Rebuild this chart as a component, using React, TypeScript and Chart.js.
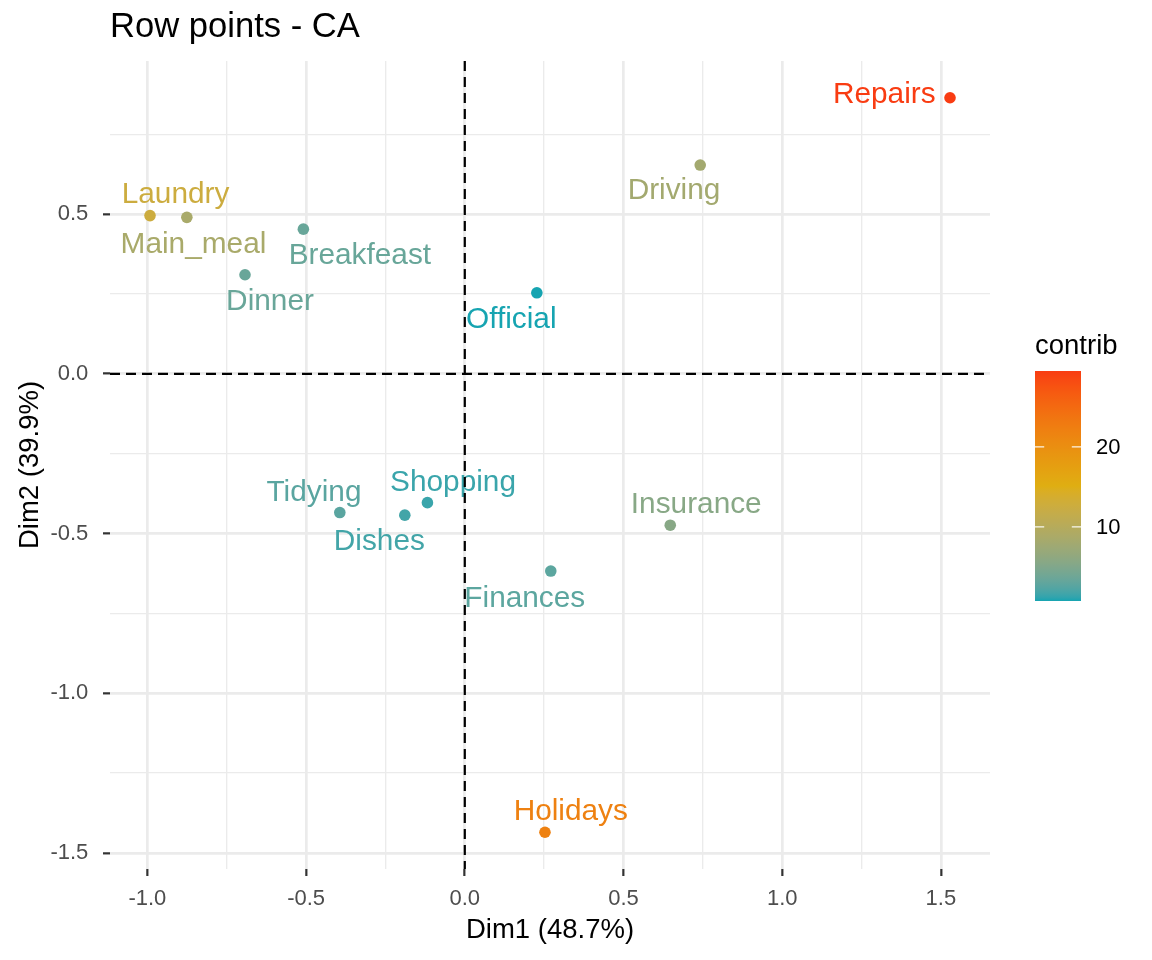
import React, { useEffect, useRef } from 'react';
import { Chart, registerables } from 'chart.js';

Chart.register(...registerables);

const FONT = '"Liberation Sans", Arial, Helvetica, sans-serif';

// Row coordinates on the first two CA dimensions and their contribution (%)
const rowNames = ['Laundry', 'Main_meal', 'Dinner', 'Breakfeast', 'Tidying', 'Dishes', 'Shopping', 'Official', 'Driving', 'Finances', 'Insurance', 'Repairs', 'Holidays'];
const dim1 = [-0.9918, -0.8757, -0.6925, -0.5086, -0.3938, -0.189, -0.1177, 0.227, 0.7417, 0.2709, 0.6473, 1.5287, 0.2526];
const dim2 = [0.4953, 0.4897, 0.3101, 0.4528, -0.4343, -0.4423, -0.4033, 0.2536, 0.6534, -0.6173, -0.4738, 0.8642, -1.435];
const contrib = [12.56, 8.56, 3.43, 3.4, 2.65, 1.69, 1.42, 0.71, 8.03, 2.75, 5.55, 29.5, 22.0];

const xMajorTicks = [-1, -0.5, 0, 0.5, 1, 1.5];
const yMajorTicks = [-1.5, -1, -0.5, 0, 0.5];
const legendTicks = [10, 20];
const gradientColours = ['#16A4B1', '#DFAE12', '#F93C12'];

const titleText = 'Row points - CA';
const xTitle = 'Dim1 (48.7%)';
const yTitle = 'Dim2 (39.9%)';
const legendTitle = 'contrib';

// Repelled label placement: [dx, dy] in px from the point to the label's centre/baseline
const labelNudge: [number, number][] = [
  [25.5, -12.7], [6.6, 36], [25, 35], [56.5, 34.7], [-25.8, -11.6], [-25.5, 35],
  [25.6, -11.6], [-25.6, 35.6], [-26.2, 34.3], [-26, 36], [26, -12.3], [-65.7, 5], [25.8, -12.4],
];

// ---- colour ramp interpolated in CIE Lab ----
const WHITE = [0.95047, 1.0, 1.08883];
const hexToRgb = (h: string) => {
  const n = parseInt(h.slice(1), 16);
  return [(n >> 16) & 255, (n >> 8) & 255, n & 255];
};
const toLin = (c: number) => {
  const v = c / 255;
  return v <= 0.04045 ? v / 12.92 : Math.pow((v + 0.055) / 1.055, 2.4);
};
const fromLin = (c: number) => {
  const v = c <= 0.0031308 ? 12.92 * c : 1.055 * Math.pow(Math.max(c, 0), 1 / 2.4) - 0.055;
  return Math.round(Math.min(1, Math.max(0, v)) * 255);
};
const K = 24389 / 27;
const E = 216 / 24389;
function rgbToLab(rgb: number[]) {
  const R = toLin(rgb[0]), G = toLin(rgb[1]), B = toLin(rgb[2]);
  const X = 0.4124564 * R + 0.3575761 * G + 0.1804375 * B;
  const Y = 0.2126729 * R + 0.7151522 * G + 0.072175 * B;
  const Z = 0.0193339 * R + 0.119192 * G + 0.9503041 * B;
  const f = (t: number) => (t > E ? Math.cbrt(t) : (K * t + 16) / 116);
  const fx = f(X / WHITE[0]), fy = f(Y / WHITE[1]), fz = f(Z / WHITE[2]);
  return [116 * fy - 16, 500 * (fx - fy), 200 * (fy - fz)];
}
function labToRgb(lab: number[]) {
  const [L, a, b] = lab;
  const fy = (L + 16) / 116, fx = fy + a / 500, fz = fy - b / 200;
  const inv = (t: number) => (t * t * t > E ? t * t * t : (116 * t - 16) / K);
  const X = inv(fx) * WHITE[0];
  const Y = (L > K * E ? fy * fy * fy : L / K) * WHITE[1];
  const Z = inv(fz) * WHITE[2];
  const R = 3.2404542 * X - 1.5371385 * Y - 0.4985314 * Z;
  const G = -0.969266 * X + 1.8760108 * Y + 0.041556 * Z;
  const B = 0.0556434 * X - 0.2040259 * Y + 1.0572252 * Z;
  return [fromLin(R), fromLin(G), fromLin(B)];
}
const rampLab = gradientColours.map((c) => rgbToLab(hexToRgb(c)));
function ramp(t: number) {
  const tt = Math.min(1, Math.max(0, t));
  const n = rampLab.length - 1;
  const seg = Math.min(n - 1, Math.floor(tt * n));
  const u = tt * n - seg;
  const a = rampLab[seg], b = rampLab[seg + 1];
  const rgb = labToRgb(a.map((v, k) => v + (b[k] - v) * u));
  return `rgb(${rgb[0]},${rgb[1]},${rgb[2]})`;
}

const cMin = Math.min(...contrib);
const cMax = Math.max(...contrib);
const pointColours = contrib.map((c) => ramp((c - cMin) / (cMax - cMin)));

// scale limits: data range expanded by 5% on each side
const expand = (v: number[]) => {
  const lo = Math.min(...v), hi = Math.max(...v), pad = (hi - lo) * 0.05;
  return [lo - pad, hi + pad];
};
const [xMin, xMax] = expand(dim1);
const [yMin, yMax] = expand(dim2);

const withMinor = (major: number[], lo: number, hi: number) => {
  const step = major[1] - major[0];
  const all = [...major];
  for (let i = -1; i < major.length; i++) {
    const m = (i < 0 ? major[0] - step : major[i]) + step / 2;
    all.push(m);
  }
  return all.filter((v) => v >= lo && v <= hi).sort((a, b) => a - b);
};
const isMajor = (list: number[], v: number) => list.some((m) => Math.abs(m - v) < 1e-9);

const PANEL = { left: 110, top: 61, right: 990, bottom: 869 };
const W = 1152;
const H = 960;

const overlay = {
  id: 'overlay',
  afterDatasetsDraw(chart: any) {
    const { ctx, chartArea, scales } = chart;
    const x = scales.x, y = scales.y;
    ctx.save();
    // point labels
    ctx.font = `29.8px ${FONT}`;
    ctx.textAlign = 'center';
    ctx.textBaseline = 'alphabetic';
    rowNames.forEach((name, i) => {
      const px = x.getPixelForValue(dim1[i]);
      const py = y.getPixelForValue(dim2[i]);
      ctx.fillStyle = pointColours[i];
      ctx.fillText(name, px + labelNudge[i][0], py + labelNudge[i][1]);
    });
    // dashed reference lines through the origin
    ctx.strokeStyle = '#000000';
    ctx.lineWidth = 2.2;
    ctx.setLineDash([10, 6]);
    const x0 = x.getPixelForValue(0);
    const y0 = y.getPixelForValue(0);
    ctx.beginPath();
    ctx.moveTo(x0, chartArea.top);
    ctx.lineTo(x0, chartArea.bottom);
    ctx.stroke();
    ctx.beginPath();
    ctx.moveTo(chartArea.left, y0);
    ctx.lineTo(chartArea.right, y0);
    ctx.stroke();
    ctx.restore();
  },
  afterDraw(chart: any) {
    const { ctx, chartArea } = chart;
    ctx.save();
    ctx.fillStyle = '#000000';
    ctx.textBaseline = 'alphabetic';
    // title
    ctx.font = `34.6px ${FONT}`;
    ctx.textAlign = 'left';
    ctx.fillText(titleText, 110, 37.3);
    // axis titles
    ctx.font = `27.5px ${FONT}`;
    ctx.textAlign = 'center';
    ctx.fillText(xTitle, (chartArea.left + chartArea.right) / 2, 938.3);
    ctx.save();
    ctx.translate(38, (chartArea.top + chartArea.bottom) / 2);
    ctx.rotate(-Math.PI / 2);
    ctx.fillText(yTitle, 0, 0);
    ctx.restore();

    // colour bar legend
    const bx = 1035, bw = 46, bTop = 371, bBottom = 601;
    ctx.textAlign = 'left';
    ctx.fillText(legendTitle, bx, 354);
    const grad = ctx.createLinearGradient(0, bBottom, 0, bTop);
    const steps = 60;
    for (let k = 0; k <= steps; k++) grad.addColorStop(k / steps, ramp(k / steps));
    ctx.fillStyle = grad;
    ctx.fillRect(bx, bTop, bw, bBottom - bTop);
    ctx.font = `22px ${FONT}`;
    ctx.textBaseline = 'middle';
    legendTicks.forEach((v) => {
      const yy = bBottom - ((v - cMin) / (cMax - cMin)) * (bBottom - bTop);
      ctx.strokeStyle = 'rgba(255,255,255,0.9)';
      ctx.lineWidth = 1.2;
      ctx.beginPath();
      ctx.moveTo(bx, yy);
      ctx.lineTo(bx + bw / 5, yy);
      ctx.moveTo(bx + bw - bw / 5, yy);
      ctx.lineTo(bx + bw, yy);
      ctx.stroke();
      ctx.fillStyle = '#000000';
      ctx.fillText(String(v), bx + bw + 15, yy + 1);
    });
    ctx.restore();
  },
};

export default function App() {
  const canvasRef = useRef<HTMLCanvasElement>(null);

  useEffect(() => {
    const canvas = canvasRef.current;
    if (!canvas) return;
    const xAll = withMinor(xMajorTicks, xMin, xMax);
    const yAll = withMinor(yMajorTicks, yMin, yMax);

    const chart = new Chart(canvas, {
      type: 'scatter',
      data: {
        datasets: [
          {
            data: dim1.map((v, i) => ({ x: v, y: dim2[i] })),
            pointBackgroundColor: pointColours,
            pointBorderWidth: 0,
            pointBorderColor: 'rgba(0,0,0,0)',
            pointRadius: 5.8,
            pointHoverRadius: 5.8,
          },
        ],
      },
      options: {
        animation: false,
        responsive: false,
        devicePixelRatio: 1,
        events: [],
        layout: { padding: { left: 0, top: PANEL.top, right: W - PANEL.right, bottom: 0 } },
        plugins: { legend: { display: false }, tooltip: { enabled: false }, title: { display: false } },
        scales: {
          x: {
            type: 'linear',
            min: xMin,
            max: xMax,
            afterBuildTicks: (s: any) => {
              s.ticks = xAll.map((v) => ({ value: v }));
            },
            afterFit: (s: any) => {
              s.height = H - PANEL.bottom;
            },
            border: { display: false },
            grid: {
              color: '#EBEBEB',
              lineWidth: (c: any) => (isMajor(xMajorTicks, c.tick?.value) ? 2.7 : 1.35),
              tickColor: (c: any) => (isMajor(xMajorTicks, c.tick?.value) ? '#333333' : 'rgba(0,0,0,0)'),
              tickWidth: 2.2,
              tickLength: 7,
              drawTicks: true,
            },
            ticks: {
              autoSkip: false,
              maxRotation: 0,
              padding: 9.5,
              color: '#4D4D4D',
              font: { family: FONT, size: 22 },
              callback: (v: any) => (isMajor(xMajorTicks, Number(v)) ? Number(v).toFixed(1) : ''),
            },
          },
          y: {
            type: 'linear',
            min: yMin,
            max: yMax,
            afterBuildTicks: (s: any) => {
              s.ticks = yAll.map((v) => ({ value: v }));
            },
            afterFit: (s: any) => {
              s.width = PANEL.left;
            },
            border: { display: false },
            grid: {
              color: '#EBEBEB',
              lineWidth: (c: any) => (isMajor(yMajorTicks, c.tick?.value) ? 2.7 : 1.35),
              tickColor: (c: any) => (isMajor(yMajorTicks, c.tick?.value) ? '#333333' : 'rgba(0,0,0,0)'),
              tickWidth: 2.2,
              tickLength: 7,
              drawTicks: true,
            },
            ticks: {
              autoSkip: false,
              padding: 14.7,
              color: '#4D4D4D',
              font: { family: FONT, size: 22 },
              callback: (v: any) => (isMajor(yMajorTicks, Number(v)) ? Number(v).toFixed(1) : ''),
            },
          },
        },
      },
      plugins: [overlay],
    } as any);

    return () => chart.destroy();
  }, []);

  return (
    <div style={{ position: 'absolute', left: 0, top: 0, width: W, height: H, background: '#ffffff' }}>
      <canvas ref={canvasRef} width={W} height={H} style={{ display: 'block', width: W, height: H }} />
    </div>
  );
}
